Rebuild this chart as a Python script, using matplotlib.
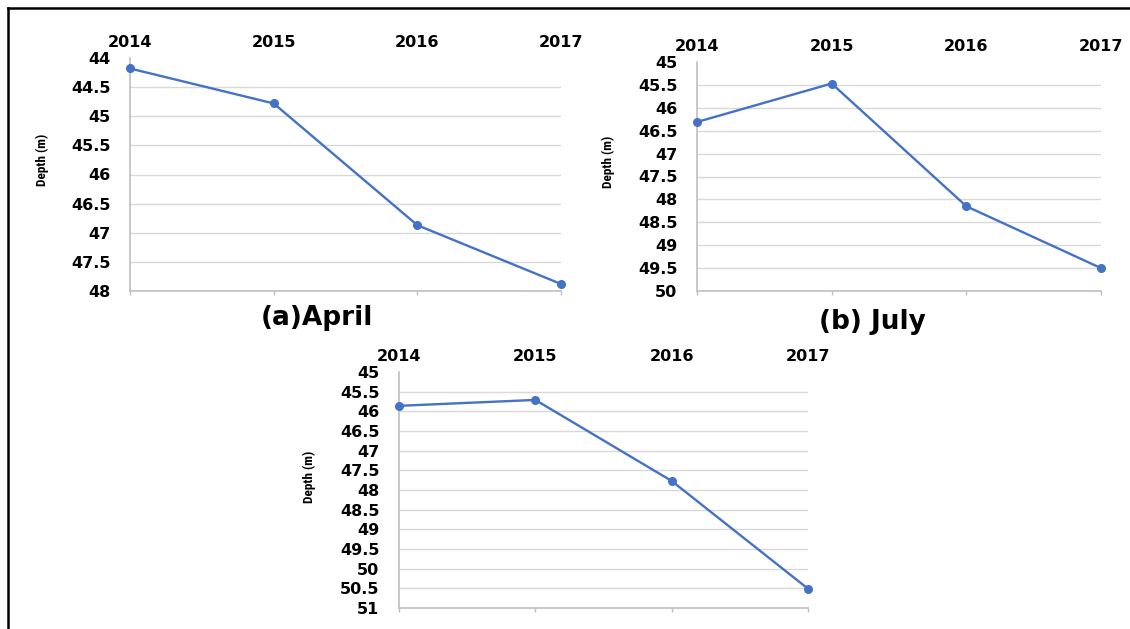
import numpy as np
import matplotlib
matplotlib.use("Agg")
import matplotlib.pyplot as plt
from matplotlib import font_manager
from matplotlib.lines import Line2D

# data (depth in m)
years = ["2014", "2015", "2016", "2017"]
april = [44.18, 44.78, 46.87, 47.88]
july = [46.31, 45.47, 48.15, 49.50]
third = [45.86, 45.71, 47.77, 50.51]

april_ticks = [44, 44.5, 45, 45.5, 46, 46.5, 47, 47.5, 48]
july_ticks = [45, 45.5, 46, 46.5, 47, 47.5, 48, 48.5, 49, 49.5, 50]
third_ticks = [45, 45.5, 46, 46.5, 47, 47.5, 48, 48.5, 49, 49.5, 50, 50.5, 51]

titles = ["(a)April", "(b) July"]

blue = "#4472C4"
grid_col = "#d9d9d9"
axis_col = "#bfbfbf"

names = {f.name for f in font_manager.fontManager.ttflist}
narrow = [n for n in ["Liberation Sans Narrow", "Roboto Condensed", "Open Sans Condensed"]
          if n in names] + ["Liberation Sans"]

W, H = 1130, 629
fig = plt.figure(figsize=(W / 100, H / 100), dpi=100)


def panel(rect, vals, ticks):
    ax = fig.add_axes(rect)
    x = np.arange(len(years))
    for t in ticks[1:]:
        ax.axhline(t, color=grid_col, lw=1.0, zorder=1)
    ax.plot(x, vals, color=blue, lw=1.7, marker="o", markersize=5.5,
            zorder=3, clip_on=False)
    ax.set_xlim(0, len(years) - 1)
    ax.set_ylim(ticks[-1], ticks[0])
    ax.set_yticks(ticks)
    ax.set_yticklabels([f"{t:g}" for t in ticks], fontsize=11.5, fontweight="bold")
    ax.set_xticks(x)
    ax.set_xticklabels(years, fontsize=11.5, fontweight="bold")
    ax.tick_params(axis="x", top=False, bottom=True, labeltop=True,
                   labelbottom=False, length=3, width=1, color=axis_col, pad=3)
    ax.tick_params(axis="y", left=False, length=0, pad=14)
    for s in ["top", "right"]:
        ax.spines[s].set_visible(False)
    for s in ["left", "bottom"]:
        ax.spines[s].set_color(axis_col)
        ax.spines[s].set_linewidth(1.2)
    return ax


panel([130 / W, 1 - 291 / H, 431 / W, 233 / H], april, april_ticks)
panel([697 / W, 1 - 291 / H, 404 / W, 229 / H], july, july_ticks)
panel([399 / W, 1 - 608 / H, 409 / W, 236 / H], third, third_ticks)

# y labels
for xp, yp in [(42, 160), (608, 162), (309, 477)]:
    fig.text(xp / W, 1 - yp / H, "Depth (m)", rotation=90, ha="center",
             va="center", fontsize=9.5, family=narrow, fontweight="bold")

# panel titles
fig.text(317 / W, 1 - 318 / H, titles[0], ha="center", va="center",
         fontsize=19, fontweight="bold")
fig.text(872 / W, 1 - 322 / H, titles[1], ha="center", va="center",
         fontsize=19, fontweight="bold")

# frame around the figure (left and top only are visible)
fig.add_artist(Line2D([8 / W, 8 / W], [0, 1 - 8 / H], color="black", lw=1.8,
                      transform=fig.transFigure))
fig.add_artist(Line2D([8 / W, 1], [1 - 8 / H, 1 - 8 / H], color="black", lw=1.8,
                      transform=fig.transFigure))

fig.savefig("out.png", dpi=100)
